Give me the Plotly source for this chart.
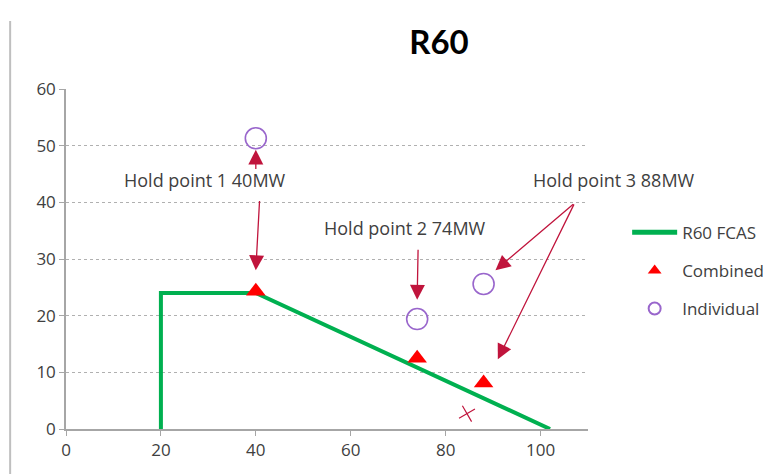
import plotly.graph_objects as go

# Data
fcas_x = [20, 20, 40, 102]
fcas_y = [0, 24, 24, 0]
combined_x = [40, 74, 88]
combined_y = [24.3, 12.5, 8.1]
individual_x = [40, 74, 88]
individual_y = [51.3, 19.4, 25.6]
cross_x = [84.5]
cross_y = [2.7]

labels = ["Hold point 1 40MW", "Hold point 2 74MW", "Hold point 3 88MW"]
label_x = [29.3, 71.5, 115.5]
label_y = [43.9, 35.4, 43.9]

# arrows: (tail_x, tail_y, head_x, head_y)
arrows = [
    (40, 45.6, 40, 49.3),
    (40.8, 40.5, 40, 28.0),
    (74.2, 31.9, 74, 22.8),
    (107.2, 39.9, 90.5, 28.0),
    (107.2, 39.9, 91.0, 12.3),
]

FONT = "Open Sans"
TXT = "#404040"
ARROW = "#C0143C"
XMAX = 110

fig = go.Figure()
fig.add_trace(go.Scatter(x=fcas_x, y=fcas_y, mode="lines", name="R60 FCAS",
                         legendgroup="a",
                         line=dict(color="#00B050", width=4)))
fig.add_trace(go.Scatter(x=combined_x, y=combined_y, mode="markers", name="Combined",
                         legendgroup="b",
                         marker=dict(symbol="triangle-up", color="#FF0000", size=17)))
fig.add_trace(go.Scatter(x=individual_x, y=individual_y, mode="markers", name="Individual",
                         legendgroup="c",
                         marker=dict(symbol="circle-open", color="#9966CC", size=21,
                                     line=dict(width=1.6))))
fig.add_trace(go.Scatter(x=cross_x, y=cross_y, mode="markers", showlegend=False,
                         marker=dict(symbol="x-thin", size=13, angle=15,
                                     line=dict(color=ARROW, width=1.2))))

for t, x, y in zip(labels, label_x, label_y):
    fig.add_annotation(x=x / XMAX, y=y, text=t, showarrow=False, xref="paper", yref="y",
                       xanchor="center", yanchor="middle",
                       font=dict(family=FONT, size=18, color=TXT))

for tx, ty, hx, hy in arrows:
    fig.add_annotation(x=hx, y=hy, ax=tx, ay=ty, xref="x", yref="y",
                       axref="x", ayref="y", text="", showarrow=True,
                       arrowhead=2, arrowsize=2.3, arrowwidth=1.3, arrowcolor=ARROW)

fig.add_shape(type="line", xref="paper", yref="paper",
              x0=-0.107, x1=-0.107, y0=-0.2, y1=1.2,
              line=dict(color="#BFBFBF", width=2))

fig.update_layout(
    width=771, height=474,
    margin=dict(l=58, r=191, t=81, b=53, autoexpand=False),
    paper_bgcolor="white", plot_bgcolor="white",
    font=dict(family=FONT, size=18, color=TXT),
    title=dict(text="<b>R60</b>", x=431 / 771, xanchor="center", y=1 - 34 / 474,
               yanchor="middle", font=dict(family="Lato", size=33, color="black")),
    showlegend=True,
    legend=dict(x=1.075, y=0.63, xanchor="left", yanchor="top",
                font=dict(family=FONT, size=17, color=TXT), itemsizing="constant",
                bgcolor="rgba(0,0,0,0)", tracegroupgap=13, itemwidth=45),
    xaxis=dict(range=[0, XMAX], tickvals=[0, 20, 40, 60, 80, 100],
               showgrid=False, zeroline=False, showline=True, linecolor="#A6A6A6",
               linewidth=1.5, ticks="outside", ticklen=5, tickcolor="#A6A6A6",
               tickfont=dict(size=17, color=TXT)),
    yaxis=dict(range=[0, 60], dtick=10, showgrid=True, gridcolor="#B0B0B0",
               griddash="dot", gridwidth=1, zeroline=False, showline=True,
               linecolor="#A6A6A6", linewidth=1.5, ticks="outside", ticklen=5,
               tickcolor="#A6A6A6", tickfont=dict(size=17, color=TXT)),
)
fig.write_html("out.html")
